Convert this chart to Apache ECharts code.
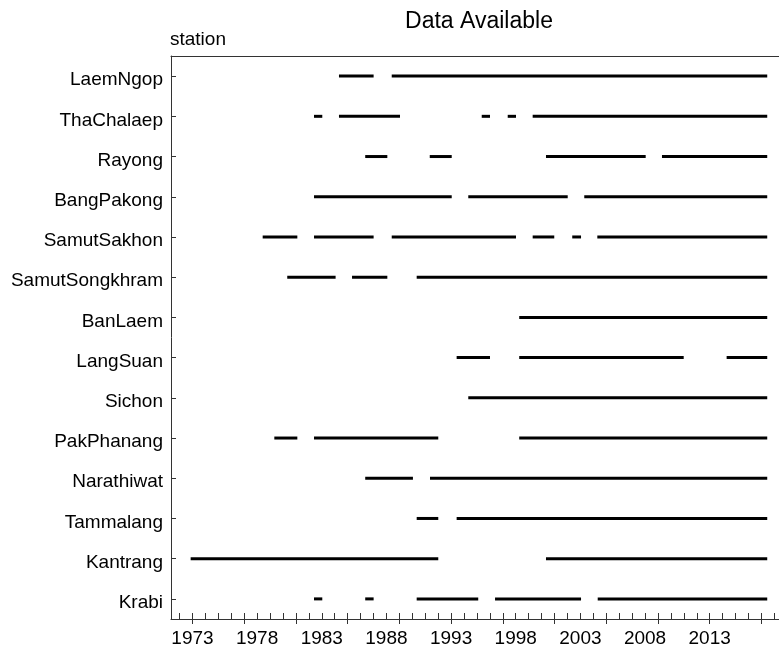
<!DOCTYPE html>
<html>
<head>
<meta charset="utf-8">
<title>Data Available</title>
<script src="https://cdn.jsdelivr.net/npm/echarts@6/dist/echarts.min.js"></script>
<style>
  html, body { margin: 0; padding: 0; background: #fff; }
  #chart { width: 779px; height: 652px; }
</style>
</head>
<body>
<div id="chart"></div>
<script>
// Stations, top to bottom
const stations = [
  'LaemNgop', 'ThaChalaep', 'Rayong', 'BangPakong', 'SamutSakhon',
  'SamutSongkhram', 'BanLaem', 'LangSuan', 'Sichon', 'PakPhanang',
  'Narathiwat', 'Tammalang', 'Kantrang', 'Krabi'
];

// Start (decimal year) of each period with data, per station
const periodStarts = [
  [1984.33, 1988.41],
  [1982.40, 1984.33, 1995.37, 1997.38, 1999.31],
  [1986.36, 1991.35, 2000.34, 2009.31],
  [1982.40, 1994.33, 2003.30],
  [1978.43, 1982.40, 1988.41, 1999.31, 2002.37, 2004.31],
  [1980.33, 1985.34, 1990.34],
  [1998.27],
  [1993.43, 1998.27, 2014.31],
  [1994.33],
  [1979.33, 1982.40, 1998.27],
  [1986.36, 1991.37],
  [1990.34, 1993.43],
  [1972.86, 2000.34],
  [1982.40, 1986.36, 1990.34, 1996.40, 2004.34]
];

// End (decimal year) of each period with data, per station
const periodEnds = [
  [1987.01, 2017.45],
  [1983.04, 1989.05, 1996.01, 1998.02, 2017.45],
  [1988.07, 1993.05, 2008.05, 2017.45],
  [1993.05, 2002.02, 2017.45],
  [1981.11, 1987.01, 1998.02, 2000.98, 2003.05, 2017.45],
  [1984.07, 1988.07, 2017.45],
  [2017.45],
  [1996.01, 2010.99, 2017.45],
  [2017.45],
  [1981.11, 1992.01, 2017.45],
  [1990.05, 2017.45],
  [1992.01, 2017.45],
  [1992.01, 2017.45],
  [1983.04, 1987.01, 1995.10, 2003.05, 2017.45]
];

// Year axis labels and tick marks
const yearLabels = [1973, 1978, 1983, 1988, 1993, 1998, 2003, 2008, 2013];
const yearTicks = [];
for (let y = 1972; y <= 2018; y++) yearTicks.push(y);
const longTicks = [1973, 1977, 1981, 1985, 1989, 1993, 1997, 2001, 2005, 2009, 2013, 2017];

const xMin = 1971.34;
const xMax = 2018.36;

const segments = [];
stations.forEach((name, i) => {
  periodStarts[i].forEach((s, k) => {
    segments.push([name, s, periodEnds[i][k]]);
  });
});

const FONT = 'Liberation Sans, Arial, sans-serif';
const axisColor = '#333';

const chart = echarts.init(document.getElementById('chart'), null, { renderer: 'canvas' });

chart.setOption({
  animation: false,
  backgroundColor: '#fff',
  graphic: [
    {
      type: 'text',
      x: 479,
      y: 22,
      style: {
        text: 'Data Available', font: '23px ' + FONT, fill: '#000',
        textAlign: 'center', textVerticalAlign: 'middle'
      }
    },
    {
      type: 'text',
      x: 170,
      y: 40,
      style: {
        text: 'station', font: '19px ' + FONT, fill: '#000',
        textAlign: 'left', textVerticalAlign: 'middle'
      }
    }
  ],
  grid: [
    // plotting area
    { left: 171, right: 0, top: 56, bottom: 33, containLabel: false },
    // station names sit slightly below their rows
    { left: 171, right: 0, top: 60, bottom: 29, containLabel: false }
  ],
  xAxis: [
    {
      type: 'value', gridIndex: 0, min: xMin, max: xMax, position: 'bottom',
      axisLine: { show: true, lineStyle: { color: axisColor, width: 1 } },
      axisTick: { show: true, inside: true, length: 6, customValues: yearTicks, lineStyle: { color: axisColor } },
      axisLabel: {
        customValues: yearLabels, margin: 10,
        formatter: v => String(Math.round(v)),
        fontFamily: FONT, fontSize: 19, color: '#000'
      },
      splitLine: { show: false }
    },
    {
      type: 'value', gridIndex: 0, min: xMin, max: xMax, position: 'bottom',
      axisLine: { show: false },
      axisTick: { show: true, inside: false, length: 5, customValues: longTicks, lineStyle: { color: axisColor } },
      axisLabel: { show: false },
      splitLine: { show: false }
    },
    {
      type: 'value', gridIndex: 0, min: xMin, max: xMax, position: 'top',
      axisLine: { show: true, lineStyle: { color: axisColor, width: 1 } },
      axisTick: { show: false },
      axisLabel: { show: false },
      splitLine: { show: false }
    },
    {
      type: 'value', gridIndex: 1, min: xMin, max: xMax, show: false
    }
  ],
  yAxis: [
    {
      type: 'category', gridIndex: 0,
      data: stations,
      inverse: true,
      axisLine: { show: true, lineStyle: { color: axisColor, width: 1 } },
      axisTick: { show: true, inside: true, length: 5, alignWithLabel: true, lineStyle: { color: axisColor } },
      axisLabel: { show: false },
      splitLine: { show: false }
    },
    {
      type: 'category', gridIndex: 1,
      data: stations,
      inverse: true,
      axisLine: { show: false },
      axisTick: { show: false },
      axisLabel: { margin: 8, fontFamily: FONT, fontSize: 19, color: '#000' },
      splitLine: { show: false }
    }
  ],
  series: [{
    type: 'custom',
    xAxisIndex: 0,
    yAxisIndex: 0,
    encode: { x: [1, 2], y: 0 },
    data: segments,
    renderItem: function (params, api) {
      const cat = api.value(0);
      const p1 = api.coord([api.value(1), cat]);
      const p2 = api.coord([api.value(2), cat]);
      return {
        type: 'line',
        shape: { x1: p1[0], y1: p1[1], x2: p2[0], y2: p2[1] },
        style: { stroke: '#000', lineWidth: 3, lineCap: 'butt' }
      };
    }
  }]
});
</script>
</body>
</html>
